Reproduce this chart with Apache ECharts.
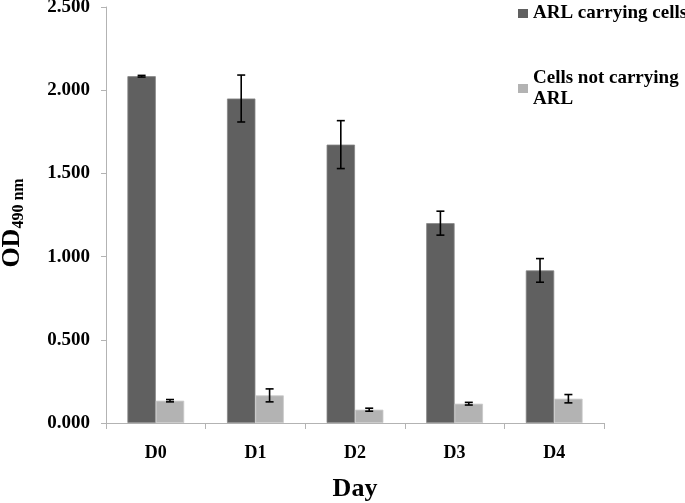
<!DOCTYPE html>
<html>
<head>
<meta charset="utf-8">
<script src="https://cdn.jsdelivr.net/npm/echarts@6/dist/echarts.min.js"></script>
<style>html,body{margin:0;padding:0;background:#fff}#c{width:685px;height:503px}</style>
</head>
<body>
<div id="c"></div>
<script>
var days = ['D0', 'D1', 'D2', 'D3', 'D4'];
var arlCells = [2.084, 1.950, 1.673, 1.201, 0.917];
var arlCellsErr = [0.005, 0.141, 0.144, 0.072, 0.071];
var noArlCells = [0.134, 0.166, 0.080, 0.116, 0.146];
var noArlCellsErr = [0.007, 0.039, 0.009, 0.008, 0.025];
var yTicks = [0, 0.5, 1.0, 1.5, 2.0, 2.5];
var seriesNames = ['ARL carrying cells', 'Cells not carrying\nARL'];

var FONT = 'Liberation Serif';
var CAT_GAP = 0.43; // barCategoryGap fraction

function errData(vals, errs) {
  return vals.map(function (v, i) { return [i, v, errs[i]]; });
}

function errorRenderer(side) {
  return function (params, api) {
    var idx = api.value(0);
    var v = api.value(1);
    var e = api.value(2);
    var band = api.size([1, 0])[0];
    var barW = band * (1 - CAT_GAP) / 2;
    var c = api.coord([idx, v]);
    var x = c[0] + side * barW / 2;
    var top = api.coord([idx, v + e])[1];
    var bot = api.coord([idx, v - e])[1];
    var cap = 4;
    var st = { stroke: '#000', lineWidth: 1.6 };
    return {
      type: 'group',
      children: [
        { type: 'line', shape: { x1: x, y1: top, x2: x, y2: bot }, style: st },
        { type: 'line', shape: { x1: x - cap, y1: top, x2: x + cap, y2: top }, style: st },
        { type: 'line', shape: { x1: x - cap, y1: bot, x2: x + cap, y2: bot }, style: st }
      ]
    };
  };
}

var chart = echarts.init(document.getElementById('c'), null, { renderer: 'canvas' });
var legendText = { fontFamily: FONT, fontWeight: 'bold', fontSize: 19, color: '#000' };
chart.setOption({
  animation: false,
  backgroundColor: '#fff',
  grid: { left: 106, right: 81, top: 7, bottom: 80, containLabel: false, outerBoundsMode: 'none' },
  legend: [
    {
      data: [seriesNames[0]], left: 518, top: 4, padding: 0,
      itemWidth: 10, itemHeight: 9, icon: 'rect',
      itemStyle: { borderWidth: 0 },
      textStyle: legendText
    },
    {
      data: [seriesNames[1]], left: 518, top: 57, padding: 0,
      itemWidth: 10, itemHeight: 9, icon: 'rect',
      itemStyle: { borderWidth: 0 },
      textStyle: Object.assign({ lineHeight: 21, padding: [21, 0, 0, 0] }, legendText)
    }
  ],
  xAxis: {
    type: 'category',
    data: days,
    boundaryGap: true,
    axisLine: { lineStyle: { color: '#b3b3b3', width: 1 } },
    axisTick: { show: true, length: 6, inside: false, lineStyle: { color: '#b3b3b3' } },
    axisLabel: { margin: 21, fontFamily: FONT, fontWeight: 'bold', fontSize: 18, color: '#000' },
    name: 'Day',
    nameLocation: 'middle',
    nameGap: 53,
    nameTextStyle: { fontFamily: FONT, fontWeight: 'bold', fontSize: 26, color: '#000' }
  },
  yAxis: {
    type: 'value',
    min: yTicks[0],
    max: yTicks[yTicks.length - 1],
    interval: yTicks[1] - yTicks[0],
    splitLine: { show: false },
    axisLine: { show: true, lineStyle: { color: '#b3b3b3', width: 1 } },
    axisTick: { show: true, length: 5, lineStyle: { color: '#b3b3b3' } },
    axisLabel: {
      margin: 16, fontFamily: FONT, fontWeight: 'bold', fontSize: 19, color: '#000',
      formatter: function (v) { return v.toFixed(3); }
    },
    name: '{a|OD}{b|490 nm}',
    nameLocation: 'middle',
    nameGap: 79,
    nameTextStyle: {
      padding: [0, 16, 0, 0],
      rich: {
        a: { fontFamily: FONT, fontWeight: 'bold', fontSize: 26, lineHeight: 30, color: '#000' },
        b: { fontFamily: FONT, fontWeight: 'bold', fontSize: 16, lineHeight: 10, verticalAlign: 'bottom', color: '#000' }
      }
    }
  },
  series: [
    {
      name: seriesNames[0], type: 'bar', data: arlCells,
      barGap: '0%', barCategoryGap: (CAT_GAP * 100) + '%',
      itemStyle: { color: '#606060', borderColor: '#858585', borderWidth: 0.8 }
    },
    {
      name: seriesNames[1], type: 'bar', data: noArlCells,
      barGap: '0%', barCategoryGap: (CAT_GAP * 100) + '%',
      itemStyle: { color: '#b3b3b3', borderColor: '#c9c9c9', borderWidth: 0.8 }
    },
    {
      type: 'custom', renderItem: errorRenderer(-1), data: errData(arlCells, arlCellsErr),
      encode: { x: 0, y: 1 }, z: 5, silent: true
    },
    {
      type: 'custom', renderItem: errorRenderer(1), data: errData(noArlCells, noArlCellsErr),
      encode: { x: 0, y: 1 }, z: 5, silent: true
    }
  ]
});
</script>
</body>
</html>
